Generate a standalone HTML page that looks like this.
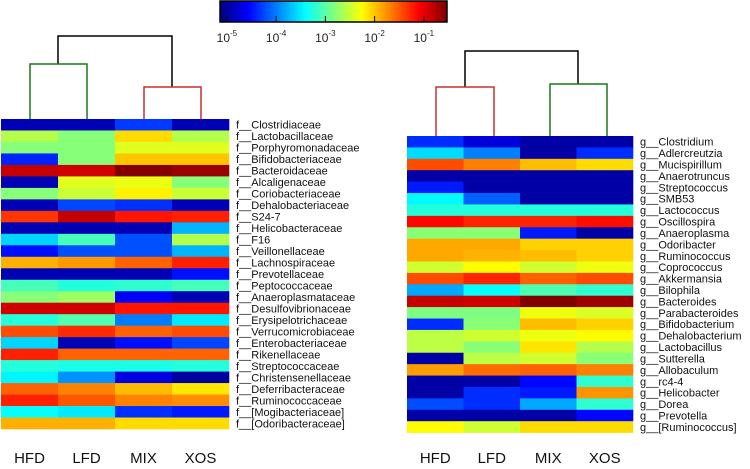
<!DOCTYPE html>
<html><head><meta charset="utf-8"><style>
body{margin:0;background:#fff;width:750px;height:464px;overflow:hidden}
svg text{font-family:"Liberation Sans","DejaVu Sans",sans-serif}
</style></head><body>
<svg id="chart" width="750" height="464" xmlns="http://www.w3.org/2000/svg">
<defs><linearGradient id="jet" x1="0" x2="1" y1="0" y2="0">
<stop offset="0" stop-color="#00007f"/><stop offset="0.125" stop-color="#0000ff"/><stop offset="0.375" stop-color="#00ffff"/><stop offset="0.625" stop-color="#ffff00"/><stop offset="0.875" stop-color="#ff0000"/><stop offset="1" stop-color="#7f0000"/></linearGradient></defs>
<g>
<rect x="220" y="1" width="227" height="21" fill="url(#jet)" stroke="#000" stroke-width="1.5"/>
</g>
<g id="cbticks"></g>
<g fill="none" stroke-width="1.5">
<path d="M58 64 V36 H172 V87" stroke="#000"/>
<path d="M30 119 V64 H87 V119" stroke="#1a7a1a"/>
<path d="M144 119 V87 H201 V119" stroke="#c83030"/>
</g>
<g fill="none" stroke-width="1.5">
<path d="M465 87 V51 H578 V84" stroke="#000"/>
<path d="M436 136 V87 H494 V136" stroke="#c83030"/>
<path d="M550 136 V84 H607 V136" stroke="#1a7a1a"/>
</g>
<g id="left"></g><g id="right"></g>
</svg>
<script>
const groups = ["HFD","LFD","MIX","XOS"];
const cbTicks = [-5,-4,-3,-2,-1];
const leftTaxa = ["f__Clostridiaceae","f__Lactobacillaceae","f__Porphyromonadaceae","f__Bifidobacteriaceae","f__Bacteroidaceae","f__Alcaligenaceae","f__Coriobacteriaceae","f__Dehalobacteriaceae","f__S24-7","f__Helicobacteraceae","f__F16","f__Veillonellaceae","f__Lachnospiraceae","f__Prevotellaceae","f__Peptococcaceae","f__Anaeroplasmataceae","f__Desulfovibrionaceae","f__Erysipelotrichaceae","f__Verrucomicrobiaceae","f__Enterobacteriaceae","f__Rikenellaceae","f__Streptococcaceae","f__Christensenellaceae","f__Deferribacteraceae","f__Ruminococcaceae","f__[Mogibacteriaceae]","f__[Odoribacteraceae]"];
const leftLog = [
[-4.9,-4.9,-4.3,-4.9],[-2.6,-2.8,-2.1,-2.6],[-2.8,-2.8,-2.4,-2.4],[-4.4,-2.8,-2.0,-2.0],
[-0.85,-0.9,-0.55,-0.65],[-4.9,-2.4,-2.35,-2.8],[-2.8,-2.5,-2.2,-2.5],[-4.9,-4.25,-4.35,-4.9],
[-1.35,-0.85,-1.2,-1.25],[-4.9,-4.9,-4.9,-3.75],[-3.6,-3.1,-4.2,-2.6],[-4.5,-4.2,-4.2,-3.75],
[-1.9,-1.8,-1.55,-1.25],[-4.9,-4.9,-4.9,-4.5],[-3.1,-3.25,-3.2,-3.1],[-2.8,-2.7,-4.6,-4.9],
[-0.9,-0.9,-1.2,-1.2],[-3.25,-3.05,-4.0,-3.5],[-1.45,-1.3,-1.55,-1.45],[-3.6,-4.9,-4.5,-4.25],
[-1.25,-1.55,-1.55,-1.55],[-3.25,-3.3,-3.3,-3.25],[-3.45,-3.9,-4.7,-5.0],[-1.55,-1.7,-1.95,-2.15],
[-1.25,-1.5,-1.7,-1.75],[-3.4,-3.5,-4.35,-4.45],[-1.9,-1.9,-2.1,-2.1]];
const rightTaxa = ["g__Clostridium","g__Adlercreutzia","g__Mucispirillum","g__Anaerotruncus","g__Streptococcus","g__SMB53","g__Lactococcus","g__Oscillospira","g__Anaeroplasma","g__Odoribacter","g__Ruminococcus","g__Coprococcus","g__Akkermansia","g__Bilophila","g__Bacteroides","g__Parabacteroides","g__Bifidobacterium","g__Dehalobacterium","g__Lactobacillus","g__Sutterella","g__Allobaculum","g__rc4-4","g__Helicobacter","g__Dorea","g__Prevotella","g__[Ruminococcus]"];
const rightLog = [
[-4.36,-4.73,-4.96,-4.96],[-3.57,-3.99,-4.96,-4.36],[-1.45,-1.68,-1.96,-2.1],[-4.96,-4.96,-4.96,-4.96],
[-4.45,-4.96,-4.96,-4.96],[-3.43,-4.13,-4.96,-4.96],[-3.25,-3.25,-3.25,-3.25],[-1.13,-1.27,-1.27,-1.17],
[-2.79,-2.79,-4.45,-4.96],[-1.87,-1.87,-2.05,-2.05],[-1.87,-1.91,-1.96,-2.05],[-2.47,-2.24,-2.47,-2.33],
[-1.45,-1.27,-1.54,-1.45],[-3.8,-3.39,-3.07,-3.2],[-0.85,-0.9,-0.53,-0.67],[-2.84,-2.84,-2.33,-2.42],
[-4.36,-2.79,-1.96,-2.05],[-2.56,-2.47,-2.33,-2.24],[-2.56,-2.79,-2.14,-2.6],[-4.96,-2.56,-2.47,-2.79],
[-1.82,-1.59,-1.54,-1.68],[-4.96,-4.96,-4.54,-3.2],[-4.96,-4.36,-4.45,-1.77],[-4.22,-4.36,-3.8,-3.2],
[-4.96,-4.96,-4.96,-4.54],[-2.24,-2.47,-2.1,-2.1]];

const NS="http://www.w3.org/2000/svg";
const LMIN=-5.14, LMAX=-0.53;
function cl(v){return Math.max(0,Math.min(1,v));}
function jet(v){const t=cl((v-LMIN)/(LMAX-LMIN));
 const r=cl(1.5-Math.abs(4*t-3)),g=cl(1.5-Math.abs(4*t-2)),b=cl(1.5-Math.abs(4*t-1));
 return `rgb(${Math.round(r*255)},${Math.round(g*255)},${Math.round(b*255)})`;}
function mk(tag,attrs,parent){const e=document.createElementNS(NS,tag);for(const k in attrs)e.setAttribute(k,attrs[k]);parent.appendChild(e);return e;}
const cbX=v=>220+(v-LMIN)/(LMAX-LMIN)*227;
const cbg=document.getElementById('cbticks');
cbTicks.forEach(v=>{
 const x=cbX(v);
 const ln=mk('line',{x1:x,x2:x,y1:16,y2:22,stroke:'#000','stroke-width':1},cbg);
 
 
 const t=mk('text',{x:x,y:42,'text-anchor':'middle','font-size':12,fill:'#222'},cbg);
 
 
 t.textContent='10';
 const s=mk('tspan',{dy:-6,'font-size':8},t);s.textContent=String(v);
});
function heat(g,taxa,data,x0,x1,y0,y1,lx,side){
 const cw=(x1-x0)/groups.length, rh=(y1-y0)/taxa.length;
 data.forEach((row,i)=>{row.forEach((v,j)=>{
  const r=mk('rect',{x:x0+j*cw,y:y0+i*rh,width:cw+0.3,height:rh+0.3,fill:jet(v)},g);
  
  
 });
  const t=mk('text',{x:lx,y:y0+(i+0.5)*rh+4,'font-size':11,fill:'#111'},g);
  
  
  t.textContent=taxa[i];
 });
 groups.forEach((gname,j)=>{
  const t=mk('text',{x:x0+(j+0.5)*cw,y:463,'text-anchor':'middle','font-size':15,fill:'#111'},g);
  
  
  t.textContent=gname;
 });
}
heat(document.getElementById('left'),leftTaxa,leftLog,1,229,119,429,236,'l');
heat(document.getElementById('right'),rightTaxa,rightLog,407,633,136,432.6,640,'r');
</script>
</body></html>
